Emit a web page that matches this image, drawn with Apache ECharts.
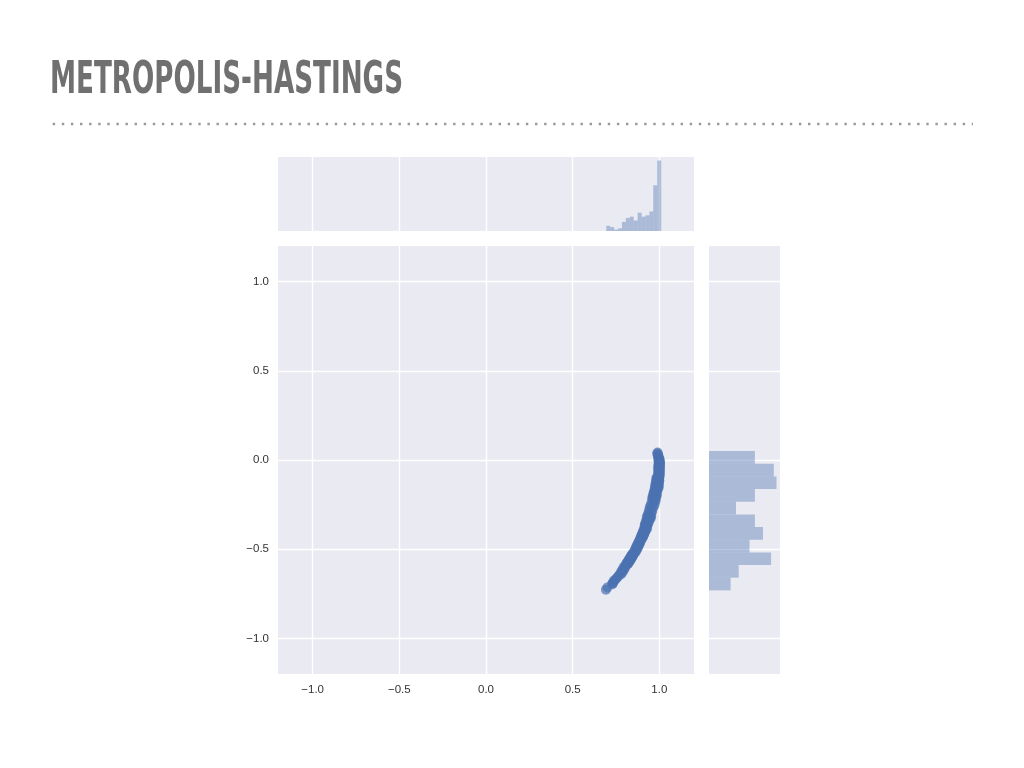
<!DOCTYPE html>
<html>
<head>
<meta charset="utf-8">
<script src="https://cdn.jsdelivr.net/npm/echarts@6/dist/echarts.min.js"></script>
<style>html,body{margin:0;padding:0;background:#fff}#c{width:1024px;height:768px}</style>
</head>
<body>
<div id="c"></div>
<script>
// ---- data ----
const titleText = 'METROPOLIS-HASTINGS';
const tickValues = [-1.0, -0.5, 0.0, 0.5, 1.0];
const axisMin = -1.2, axisMax = 1.2;

// marginal histogram of x (bin edges and counts)
const xHistEdges = [0.694, 0.717, 0.739, 0.762, 0.784, 0.807, 0.830, 0.852, 0.875, 0.898, 0.920, 0.943, 0.965, 0.988, 1.011];
const xHistCounts = [4, 3, 1, 2, 7, 10, 11, 8, 14, 11, 12, 15, 35, 54];
const xHistMax = 56.7;

// marginal histogram of y (bin edges top to bottom and counts)
const yHistEdges = [0.050, -0.021, -0.092, -0.163, -0.234, -0.305, -0.376, -0.447, -0.518, -0.589, -0.660, -0.731];
const yHistCounts = [17, 24, 25, 17, 10, 17, 20, 15, 23, 11, 8];
const yHistMax = 26.3;

// samples [x, y]
const samples = [
[0.990,0.042],[0.988,0.036],[0.993,0.030],[0.991,0.024],[0.996,0.019],[0.994,0.014],[0.999,0.010],[0.997,0.006],[1.002,0.002],[0.995,-0.002],[1.000,-0.005],[0.998,-0.008],[1.003,-0.011],[0.996,-0.014],[1.001,-0.016],[0.999,-0.018],[1.004,-0.020],
[0.997,-0.024],[1.002,-0.027],[0.995,-0.030],[1.000,-0.033],[1.004,-0.036],[0.998,-0.039],[0.993,-0.042],[1.001,-0.045],[0.996,-0.048],[1.003,-0.051],[0.999,-0.054],[0.994,-0.057],[1.002,-0.060],[0.997,-0.063],[1.000,-0.066],[0.995,-0.069],[1.003,-0.072],[0.998,-0.075],[0.993,-0.078],[1.001,-0.081],[0.996,-0.084],[0.999,-0.086],[0.994,-0.088],[1.002,-0.090],
[0.996,-0.094],[0.986,-0.097],[0.999,-0.100],[0.990,-0.103],[0.982,-0.106],[0.997,-0.109],[0.988,-0.112],[1.000,-0.115],[0.993,-0.118],[0.981,-0.121],[0.998,-0.124],[0.989,-0.127],[0.979,-0.130],[0.996,-0.132],[0.986,-0.135],[0.978,-0.138],[0.994,-0.141],[0.983,-0.144],[0.997,-0.147],[0.976,-0.150],[0.990,-0.152],[0.980,-0.155],[0.995,-0.157],[0.974,-0.159],[0.988,-0.161],
[0.985,-0.166],[0.973,-0.170],[0.989,-0.174],[0.970,-0.178],[0.983,-0.182],[0.966,-0.186],[0.981,-0.190],[0.969,-0.194],[0.986,-0.198],[0.962,-0.202],[0.978,-0.206],[0.965,-0.210],[0.981,-0.214],[0.958,-0.218],[0.975,-0.222],[0.962,-0.227],[0.978,-0.232],
[0.968,-0.238],[0.952,-0.245],[0.973,-0.252],[0.947,-0.259],[0.964,-0.266],[0.943,-0.273],[0.960,-0.280],[0.940,-0.288],[0.956,-0.295],[0.936,-0.302],
[0.948,-0.308],[0.932,-0.312],[0.953,-0.316],[0.928,-0.320],[0.945,-0.324],[0.950,-0.328],[0.930,-0.332],[0.943,-0.336],[0.924,-0.340],[0.940,-0.344],[0.928,-0.349],[0.920,-0.353],[0.936,-0.357],[0.918,-0.361],[0.931,-0.365],[0.915,-0.369],[0.928,-0.373],
[0.925,-0.379],[0.915,-0.382],[0.929,-0.386],[0.912,-0.389],[0.922,-0.393],[0.909,-0.396],[0.919,-0.400],[0.906,-0.403],[0.916,-0.407],[0.903,-0.410],[0.913,-0.414],[0.900,-0.417],[0.910,-0.421],[0.897,-0.424],[0.907,-0.428],[0.894,-0.431],[0.904,-0.435],[0.891,-0.438],[0.900,-0.441],[0.888,-0.444],
[0.893,-0.450],[0.883,-0.455],[0.891,-0.459],[0.878,-0.464],[0.887,-0.468],[0.874,-0.473],[0.883,-0.477],[0.869,-0.482],[0.878,-0.486],[0.865,-0.491],[0.874,-0.496],[0.861,-0.501],[0.869,-0.505],[0.856,-0.510],[0.864,-0.515],
[0.856,-0.521],[0.846,-0.524],[0.853,-0.527],[0.842,-0.530],[0.850,-0.533],[0.839,-0.536],[0.846,-0.539],[0.835,-0.542],[0.843,-0.545],[0.832,-0.548],[0.839,-0.551],[0.828,-0.554],[0.836,-0.557],[0.824,-0.560],[0.832,-0.563],[0.820,-0.566],[0.828,-0.569],[0.816,-0.572],[0.824,-0.575],[0.812,-0.578],[0.820,-0.581],[0.808,-0.583],[0.816,-0.586],
[0.806,-0.593],[0.796,-0.599],[0.802,-0.605],[0.789,-0.611],[0.795,-0.617],[0.782,-0.623],[0.788,-0.629],[0.775,-0.635],[0.780,-0.641],[0.766,-0.648],[0.760,-0.656],
[0.752,-0.664],[0.745,-0.671],[0.738,-0.678],[0.733,-0.688],[0.728,-0.693],[0.730,-0.697],[0.700,-0.715],[0.692,-0.728]
];

// ---- build ----
const xHistData = xHistCounts.map((c, i) => [xHistEdges[i], xHistEdges[i + 1], c]);
const yHistData = yHistCounts.map((c, i) => [yHistEdges[i + 1], yHistEdges[i], c]);

const fmt = v => (v < 0 ? '\u2212' : '') + Math.abs(v).toFixed(1);
const labelStyle = { color: '#333', fontSize: 11.5, fontFamily: '"Liberation Sans", Arial, sans-serif' };
const gridLine = { show: true, lineStyle: { color: '#ffffff', width: 1.4 } };
const histColor = 'rgba(76,114,176,0.4)';

function posAxis(gridIndex, showLabel, margin) {
  return {
    type: 'value', gridIndex, min: axisMin, max: axisMax,
    axisLine: { show: false },
    axisTick: { show: false, customValues: tickValues },
    axisLabel: Object.assign({ show: showLabel, customValues: tickValues, formatter: fmt, margin }, labelStyle),
    splitLine: gridLine
  };
}
function countAxis(gridIndex, max) {
  return {
    type: 'value', gridIndex, min: 0, max,
    axisLine: { show: false }, axisTick: { show: false },
    axisLabel: { show: false }, splitLine: { show: false }
  };
}

// title width measurement to emulate condensed face
const titleFont = 'bold 44px "Liberation Sans Narrow", "DejaVu Sans Condensed", "Liberation Sans", sans-serif';
const cv = document.createElement('canvas').getContext('2d');
cv.font = titleFont;
const titleScale = 353 / cv.measureText(titleText).width;

const chart = echarts.init(document.getElementById('c'), null, { renderer: 'canvas' });
chart.setOption({
  backgroundColor: '#ffffff',
  animation: false,
  grid: [
    { left: 278, top: 246, width: 416, height: 428, show: true, backgroundColor: '#EAEAF2', borderWidth: 0 },
    { left: 278, top: 157, width: 416, height: 74, show: true, backgroundColor: '#EAEAF2', borderWidth: 0 },
    { left: 709, top: 246, width: 71, height: 428, show: true, backgroundColor: '#EAEAF2', borderWidth: 0 }
  ],
  xAxis: [posAxis(0, true, 10), posAxis(1, false, 8), countAxis(2, yHistMax)],
  yAxis: [posAxis(0, true, 9), countAxis(1, xHistMax), posAxis(2, false, 8)],
  series: [
    {
      type: 'scatter', xAxisIndex: 0, yAxisIndex: 0, data: samples,
      symbolSize: 10,
      itemStyle: { color: '#4C72B0', opacity: 0.7 }
    },
    {
      type: 'custom', xAxisIndex: 1, yAxisIndex: 1, data: xHistData,
      encode: { x: [0, 1], y: 2 },
      renderItem: (params, api) => {
        const a = api.coord([api.value(0), api.value(2)]);
        const b = api.coord([api.value(1), 0]);
        return { type: 'rect', shape: { x: a[0], y: a[1], width: b[0] - a[0], height: b[1] - a[1] }, style: { fill: histColor } };
      }
    },
    {
      type: 'custom', xAxisIndex: 2, yAxisIndex: 2, data: yHistData,
      encode: { x: 2, y: [0, 1] },
      renderItem: (params, api) => {
        const a = api.coord([0, api.value(1)]);
        const b = api.coord([api.value(2), api.value(0)]);
        return { type: 'rect', shape: { x: a[0], y: a[1], width: b[0] - a[0], height: b[1] - a[1] }, style: { fill: histColor } };
      }
    }
  ],
  graphic: [
    {
      type: 'text', x: 50, y: 59.5, scaleX: titleScale, originX: 0,
      style: { text: titleText, font: titleFont, fill: '#707070' }
    },
    {
      type: 'line', shape: { x1: 52.7, y1: 124, x2: 973, y2: 124 },
      style: { stroke: '#9a9a9a', lineWidth: 2.4, lineDash: [2.4, 6.7] }
    }
  ]
});
</script>
</body>
</html>
